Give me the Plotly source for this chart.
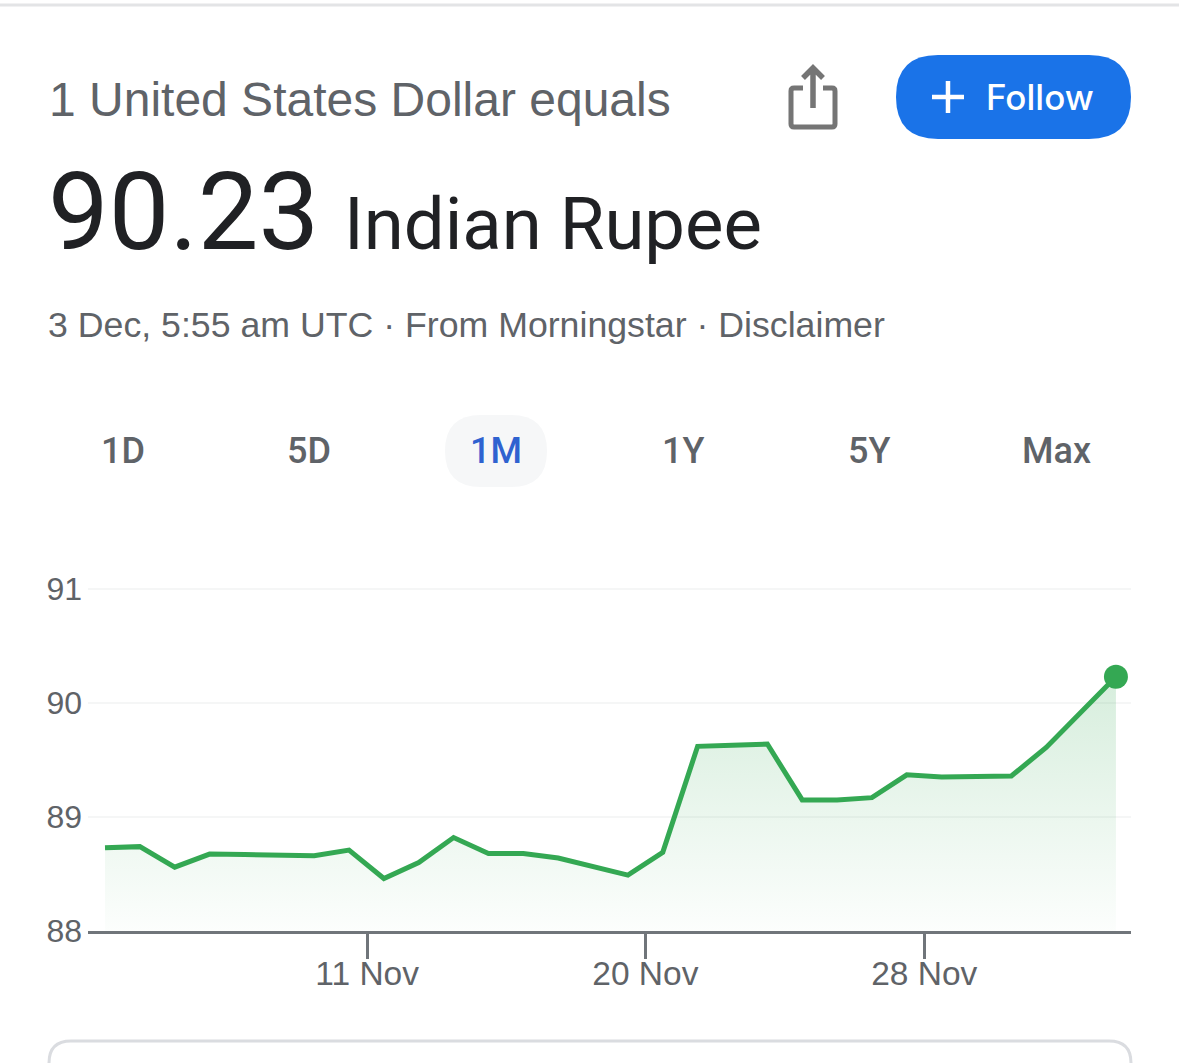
import plotly.graph_objects as go

W, H = 1179, 1063
L, R, T, B = 88, 1131, 587, 931

rates = [88.73, 88.74, 88.56, 88.675, 88.67, 88.67, 88.66, 88.71, 88.46, 88.60,
         88.82, 88.68, 88.68, 88.64, 88.56, 88.49, 88.69, 89.62, 89.63, 89.64,
         89.15, 89.15, 89.17, 89.37, 89.35, 89.35, 89.36, 89.61, 89.92, 90.23]
positions = list(range(len(rates)))
tick_positions = [7.52, 15.5, 23.5]
tick_labels = ["11 Nov", "20 Nov", "28 Nov"]
y_ticks = [88, 89, 90, 91]
periods = ["1D", "5D", "1M", "1Y", "5Y", "Max"]
period_centres = [123, 309, 496, 683, 869, 1056]

GREEN = "#34a853"
GREY = "#5f6368"


def px(x):
    return (x - L) / (R - L)


def py(y):
    return (B - y) / (B - T)


def P(x, y):
    return f"{px(x):.5f} {py(y):.5f}"


def rrect(x0, y0, x1, y1, r):
    return (f"M {P(x0 + r, y0)} L {P(x1 - r, y0)} Q {P(x1, y0)} {P(x1, y0 + r)} "
            f"L {P(x1, y1 - r)} Q {P(x1, y1)} {P(x1 - r, y1)} "
            f"L {P(x0 + r, y1)} Q {P(x0, y1)} {P(x0, y1 - r)} "
            f"L {P(x0, y0 + r)} Q {P(x0, y0)} {P(x0 + r, y0)} Z")


def text(x, y, s, size, color=GREY, anchor="left", weight=400, family="Roboto"):
    return dict(x=px(x), y=py(y), xref="paper", yref="paper", text=s, showarrow=False,
                xanchor=anchor, yanchor="middle", borderpad=0, borderwidth=0,
                font=dict(size=size, color=color, family=family, weight=weight))


def shape(path, fill=None, line=None, lw=0):
    return dict(type="path", xref="paper", yref="paper", path=path, layer="above",
                fillcolor=fill or "rgba(0,0,0,0)",
                line=dict(color=line or "rgba(0,0,0,0)", width=lw))


fig = go.Figure()
fig.add_trace(go.Scatter(
    x=positions, y=rates, mode="lines", fill="tozeroy", hoverinfo="skip",
    line=dict(color=GREEN, width=5, shape="linear"),
    fillgradient=dict(type="vertical", start=90.23, stop=88,
                      colorscale=[[0, "rgba(52,168,83,0.2)"], [1, "rgba(52,168,83,0.015)"]]),
))
fig.add_trace(go.Scatter(
    x=positions[-1:], y=rates[-1:], mode="markers", hoverinfo="skip",
    marker=dict(color=GREEN, size=24), cliponaxis=False,
))

annotations = [
    text(49, 99, "1 United States Dollar equals", 48, "#5f6368", family="Liberation Sans"),
    text(48, 212, "90.23", 108, "#202124"),
    text(344, 224, "Indian Rupee", 72.5, "#202124"),
    text(48, 325, "3 Dec, 5:55 am UTC · From Morningstar · Disclaimer", 35.7, "#5f6368",
         family="Liberation Sans"),
    text(986, 97, "Follow", 35, "#ffffff", weight=500, family="Inter"),
]
for lab, c in zip(periods, period_centres):
    col = "#2f62d0" if lab == "1M" else GREY
    annotations.append(text(c, 451, lab, 36, col, anchor="center", weight=500, family="Roboto"))

shapes = [
    dict(type="line", xref="paper", yref="paper", x0=px(0), x1=px(W), y0=py(5), y1=py(5),
         line=dict(color="#e3e4e6", width=3)),
    shape(rrect(896, 55, 1131, 139, 42), fill="#1a73e8"),
    shape(f"M {P(932, 97)} L {P(964, 97)} M {P(948, 81)} L {P(948, 113)}", line="#ffffff", lw=4.5),
    shape(rrect(445, 415, 547, 487, 36), fill="#f6f7f8"),
    shape(f"M {P(803, 88)} L {P(794, 88)} Q {P(791, 88)} {P(791, 91)} L {P(791, 124)} "
          f"Q {P(791, 127)} {P(794, 127)} L {P(832, 127)} Q {P(835, 127)} {P(835, 124)} "
          f"L {P(835, 91)} Q {P(835, 88)} {P(832, 88)} L {P(823, 88)}", line="#757575", lw=5),
    shape(f"M {P(813, 108)} L {P(813, 70)} M {P(803, 78)} L {P(813, 68)} L {P(823, 78)}",
          line="#757575", lw=5.5),
    shape(rrect(49, 1041, 1131, 1100, 22), line="#dadce0", lw=3),
]

fig.update_layout(
    width=W, height=H, showlegend=False, paper_bgcolor="#ffffff", plot_bgcolor="#ffffff",
    margin=dict(l=L, r=W - R, t=T, b=H - B, pad=0),
    annotations=annotations, shapes=shapes,
    xaxis=dict(range=[(L - 105) / 34.86, (R - 105) / 34.86], tickmode="array",
               tickvals=tick_positions, ticktext=tick_labels, showgrid=False, zeroline=False,
               showline=True, linecolor="#70757a", linewidth=2.5, ticks="outside", ticklen=25,
               tickwidth=2.5, tickcolor="#70757a", ticklabelstandoff=-14,
               tickfont=dict(size=33.5, color="#5f6368", family="Liberation Sans")),
    yaxis=dict(range=[88, 91.0175], tickmode="array", tickvals=y_ticks, ticktext=[str(v) for v in y_ticks],
               showgrid=True, gridcolor="#f5f6f6", gridwidth=2, zeroline=False, showline=False,
               ticks="", ticklabelstandoff=5,
               tickfont=dict(size=32, color="#5f6368", family="Liberation Sans")),
)

fig.write_html("out.html", config={"displayModeBar": False},
               post_script="document.body.style.margin='0';document.body.style.overflow='hidden';")
